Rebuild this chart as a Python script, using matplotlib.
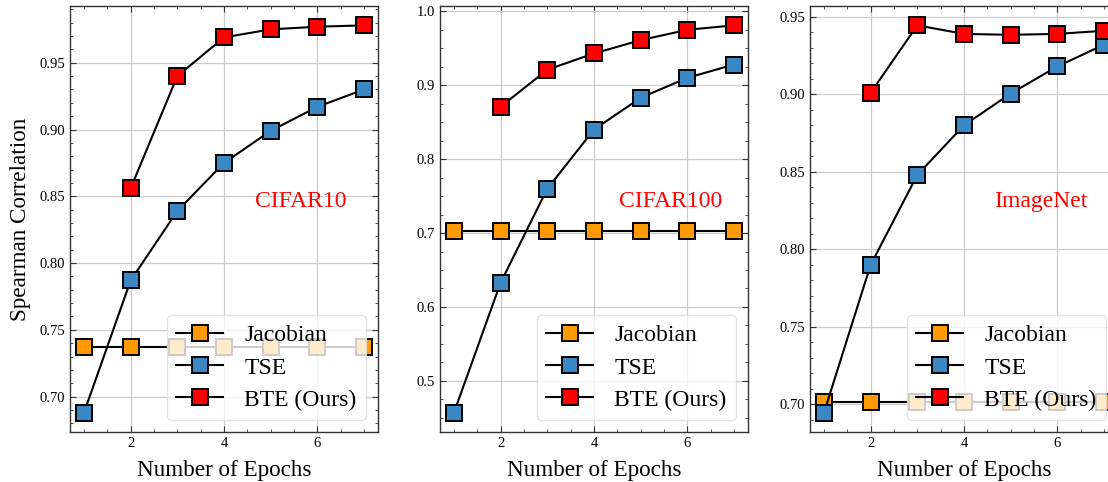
import matplotlib
matplotlib.use("Agg")
import matplotlib.pyplot as plt
from matplotlib.ticker import AutoMinorLocator, MultipleLocator

plt.rcParams['font.family'] = ['Liberation Serif', 'DejaVu Serif']
plt.rcParams['mathtext.fontset'] = 'stix'

epochs = [1, 2, 3, 4, 5, 6, 7]
bte_epochs = [2, 3, 4, 5, 6, 7]

datasets = ["CIFAR10", "CIFAR100", "ImageNet"]

jacobian_cifar10 = [0.737] * 7
tse_cifar10 = [0.688, 0.787, 0.839, 0.875, 0.899, 0.917, 0.930]
bte_cifar10 = [0.856, 0.940, 0.969, 0.975, 0.977, 0.978]

jacobian_cifar100 = [0.703] * 7
tse_cifar100 = [0.457, 0.633, 0.760, 0.840, 0.883, 0.910, 0.928]
bte_cifar100 = [0.871, 0.921, 0.943, 0.961, 0.975, 0.981]

jacobian_imagenet = [0.7015] * 7
tse_imagenet = [0.6946, 0.790, 0.848, 0.880, 0.9005, 0.918, 0.932]
bte_imagenet = [0.901, 0.9445, 0.939, 0.9384, 0.939, 0.941]

all_data = [
    (jacobian_cifar10, tse_cifar10, bte_cifar10),
    (jacobian_cifar100, tse_cifar100, bte_cifar100),
    (jacobian_imagenet, tse_imagenet, bte_imagenet),
]

c_jac = '#FF9A00'
c_tse = '#3A87C4'
c_bte = '#FF0000'

W, H = 1108, 482
fig = plt.figure(figsize=(W / 100, H / 100), dpi=100)

lefts = [70, 440, 810]
aw, top, bot = 308, 6, 432

for i, (left, name, (jac, tse, bte)) in enumerate(zip(lefts, datasets, all_data)):
    ax = fig.add_axes([left / W, (H - bot) / H, aw / W, (bot - top) / H])
    kw = dict(color='black', lw=1.5, marker='s', markersize=11,
              markeredgecolor='black', markeredgewidth=1.4)
    ax.plot(epochs, jac, markerfacecolor=c_jac, label='Jacobian', **kw)
    ax.plot(epochs, tse, markerfacecolor=c_tse, label='TSE', **kw)
    ax.plot(bte_epochs, bte, markerfacecolor=c_bte, label='BTE (Ours)', **kw)

    ax.grid(True, color='#CCCCCC', lw=0.9)
    ax.set_axisbelow(True)
    ax.xaxis.set_major_locator(MultipleLocator(2))
    ax.xaxis.set_minor_locator(MultipleLocator(0.5))
    ax.yaxis.set_minor_locator(AutoMinorLocator(5 if i != 1 else 4))
    ax.tick_params(which='both', direction='in', top=True, right=True,
                   labelsize=10.5, colors='#333333', labelcolor='black')
    ax.tick_params(which='major', length=4, width=0.8)
    ax.tick_params(which='minor', length=2, width=0.6)
    for s in ax.spines.values():
        s.set_color('#333333')
        s.set_linewidth(1.0)

    ax.set_xlabel('Number of Epochs', fontsize=16.7, labelpad=7)
    if i == 0:
        ax.set_ylabel('Spearman Correlation', fontsize=16.7, labelpad=6)
    ax.text(0.75, 0.54, name, transform=ax.transAxes, color='red',
            fontsize=17, ha='center', va='center')
    leg = ax.legend(loc='lower right', fontsize=17, framealpha=0.8,
                    fancybox=True, edgecolor='#DDDDDD', handlelength=2.0,
                    handletextpad=0.9, labelspacing=0.45, borderaxespad=0.5)
    leg.set_zorder(5)

fig.savefig('out.png', dpi=100)
